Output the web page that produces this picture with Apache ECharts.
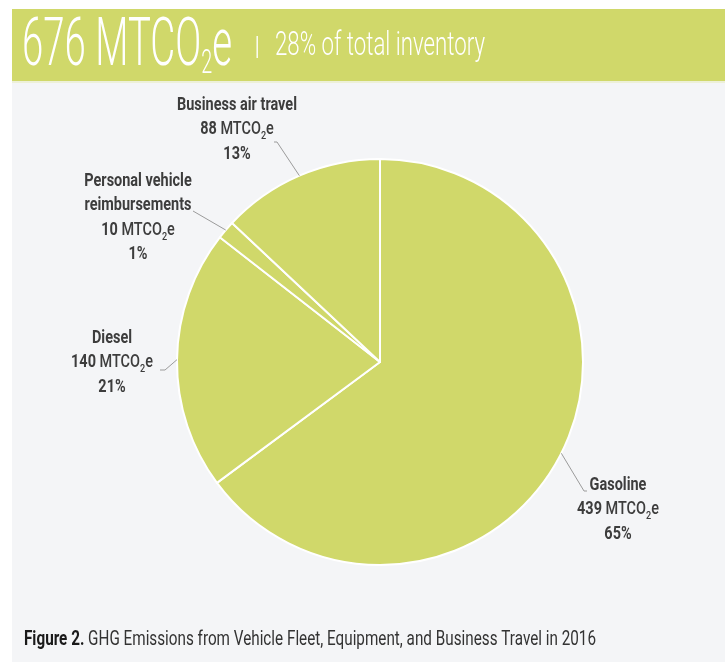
<!DOCTYPE html>
<html>
<head>
<meta charset="utf-8">
<title>GHG Emissions from Vehicle Fleet, Equipment, and Business Travel in 2016</title>
<script src="https://cdn.jsdelivr.net/npm/echarts@6/dist/echarts.min.js"></script>
<style>
  html, body { margin: 0; padding: 0; background: #ffffff; }
  #chart { width: 725px; height: 662px; }
</style>
</head>
<body>
<div id="chart"></div>
<script>
// Emission sources (MTCO2e) and their shares of the fleet/travel total
const categories = ['Gasoline', 'Diesel', 'Personal vehicle\nreimbursements', 'Business air travel'];
const emissions = [439, 140, 10, 88];
const shares = ['65%', '21%', '1%', '13%'];
const headlineTotal = '676';
const headlineShare = '28% of total inventory';
const captionLead = 'Figure 2.';
const captionText = ' GHG Emissions from Vehicle Fleet, Equipment, and Business Travel in 2016';

const FONT = 'Roboto, "Noto Sans", sans-serif';
const GREEN = '#d0d86a';
const TEXT = '#3d3d3d';
const G = echarts.graphic;

// where each label block sits, and where its leader line ends
const labelPlacement = [
  { x: 618, top: 473, path: [[584, 491], [587, 491]] },
  { x: 112, top: 326, path: [[165, 370], [160, 370]] },
  { x: 138, top: 169, path: [[193, 211]] },
  { x: 237, top: 93, path: [[277, 142], [274, 142]] }
];

// width of a text style as laid out by zrender (used to condense text)
function textWidth(style) {
  return new G.Text({ style: style }).getBoundingRect().width;
}
function fitScale(style, target) {
  return target / textWidth(style);
}

const chart = echarts.init(document.getElementById('chart'), null, { renderer: 'canvas' });

chart.setOption({
  backgroundColor: '#ffffff',
  animation: false,
  series: [{
    type: 'pie',
    center: [380, 362],
    radius: [0, 203],
    startAngle: 90,
    clockwise: true,
    data: categories.map((c, i) => ({ name: c, value: emissions[i] })),
    itemStyle: { color: GREEN, borderColor: '#ffffff', borderWidth: 2 },
    emphasis: { disabled: true },
    label: { show: false },
    labelLine: { show: false }
  }]
});

// ---- headline band ----
const bigRich = {
  big: { fontFamily: FONT, fontSize: 66, fontWeight: 300, fill: '#ffffff', lineHeight: 66, verticalAlign: 'bottom' },
  sub: { fontFamily: FONT, fontSize: 34, fontWeight: 300, fill: '#ffffff', lineHeight: 34, verticalAlign: 'bottom' }
};
const bigStyle = { text: '{big|' + headlineTotal + ' MTCO}{sub|2}{big|e}', rich: bigRich };
const bigScale = fitScale(bigStyle, 210);

const subStyle = { text: headlineShare, fontFamily: FONT, fontSize: 34, fontWeight: 300, fill: '#ffffff' };
const subScale = fitScale(subStyle, 210);

// ---- caption ----
const capRich = {
  b: { fontFamily: FONT, fontSize: 20, fontWeight: 'bold', fill: '#1a1a1a' },
  n: { fontFamily: FONT, fontSize: 20, fontWeight: 'normal', fill: '#333333' }
};
const capStyle = { text: '{b|' + captionLead + '}{n|' + captionText + '}', rich: capRich };
const capScale = fitScale(capStyle, 572);

// ---- slice labels ----
const LH = 24.5;
const labelRich = {
  nm: { fontFamily: FONT, fontSize: 17.5, fontWeight: 'bold', fill: TEXT, lineHeight: LH, align: 'center' },
  b: { fontFamily: FONT, fontSize: 17.5, fontWeight: 'bold', fill: TEXT, lineHeight: LH, align: 'center' },
  n: { fontFamily: FONT, fontSize: 17.5, fontWeight: 500, fill: TEXT, lineHeight: LH, align: 'center' },
  sub: { fontFamily: FONT, fontSize: 11, fontWeight: 500, fill: TEXT, lineHeight: 15, verticalAlign: 'bottom', align: 'center' }
};
const labelScale = fitScale({ text: 'Business air travel', fontFamily: FONT, fontSize: 17.5, fontWeight: 'bold' }, 120);

function labelText(i) {
  const lines = categories[i].split('\n').map(s => '{nm|' + s + '}');
  lines.push('{b|' + emissions[i] + '}{n| MTCO}{sub|2}{n|e}');
  lines.push('{b|' + shares[i] + '}');
  return lines.join('\n');
}

const pieData = chart.getModel().getSeriesByIndex(0).getData();

const graphics = [
  { type: 'rect', shape: { x: 12, y: 9, width: 713, height: 653 }, style: { fill: '#f4f5f7' }, z: -10 },
  { type: 'rect', shape: { x: 12, y: 9, width: 713, height: 72 }, style: { fill: GREEN }, z: -9 },
  { type: 'rect', shape: { x: 12, y: 81, width: 713, height: 2 }, style: { fill: '#edf0d8' }, z: -9 },
  { type: 'text', x: 22, y: 15, scaleX: bigScale, style: Object.assign({ verticalAlign: 'top' }, bigStyle) },
  { type: 'rect', shape: { x: 256.5, y: 36, width: 1.4, height: 22 }, style: { fill: '#ffffff' } },
  { type: 'text', x: 275, y: 29, scaleX: subScale, style: Object.assign({ verticalAlign: 'top' }, subStyle) },
  { type: 'text', x: 24, y: 630, scaleX: capScale, style: Object.assign({ verticalAlign: 'top' }, capStyle) }
];

categories.forEach((c, i) => {
  const p = labelPlacement[i];
  graphics.push({
    type: 'text', x: p.x, y: p.top, scaleX: labelScale,
    style: { text: labelText(i), rich: labelRich, align: 'center', verticalAlign: 'top' }
  });
  // leader line from the slice's outer edge at its mid angle
  const lay = pieData.getItemLayout(i);
  const mid = (lay.startAngle + lay.endAngle) / 2;
  const start = [lay.cx + lay.r * Math.cos(mid), lay.cy + lay.r * Math.sin(mid)];
  graphics.push({
    type: 'polyline',
    shape: { points: [start].concat(p.path) },
    style: { stroke: '#9b9b9b', lineWidth: 1, fill: null },
    z: 5
  });
});

chart.setOption({ graphic: graphics });
</script>
</body>
</html>
